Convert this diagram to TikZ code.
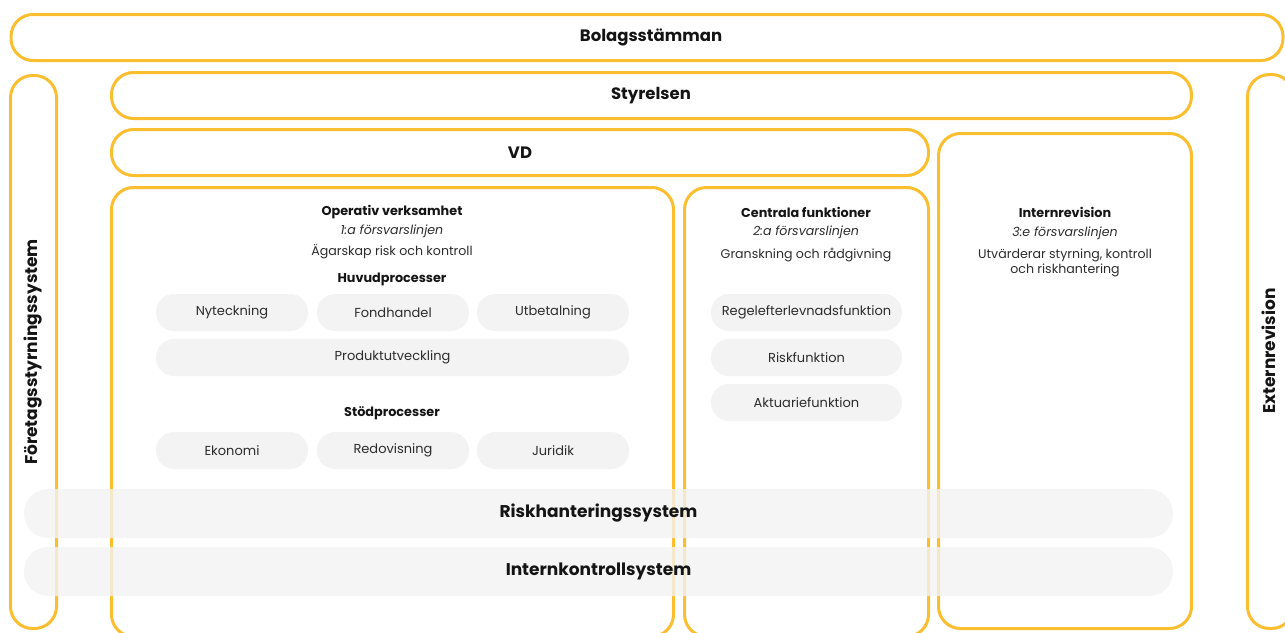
\documentclass[tikz,border=0pt]{standalone}
\usepackage{fontspec}
\setmainfont{Poppins}
\usepackage{tikz}
\usetikzlibrary{positioning}
\definecolor{gulY}{RGB}{251,190,46}
\definecolor{grayF}{RGB}{242,243,242}
\definecolor{txtD}{RGB}{20,20,20}
\tikzset{
  boxY/.style={ draw=gulY, line width=3pt, rounded corners=22pt, inner sep=0pt }
}
\tikzset{
  pillG/.style={ fill=grayF, rounded corners=18pt, minimum height=37pt, inner sep=0pt, text=txtD!90, font=\fontsize{13}{15}\selectfont }
}
\tikzset{
  barG/.style={ fill=grayF, fill opacity=0.8, text opacity=1, rounded corners=24pt, minimum width=1149pt, minimum height=49pt, inner sep=0pt, text=txtD, font=\fontsize{17}{19}\selectfont\bfseries }
}
\tikzset{
  ttl/.style={ text=txtD, font=\fontsize{12.8}{15}\selectfont\bfseries }
}
\tikzset{
  bigttl/.style={ text=txtD, font=\fontsize{16.5}{19}\selectfont\bfseries }
}
\tikzset{
  sub/.style={ text=txtD!90, font=\fontsize{12.6}{14}\selectfont\itshape }
}
\tikzset{
  txt/.style={ text=txtD!90, font=\fontsize{12.6}{14}\selectfont, align=center }
}

\begin{document}
\begin{tikzpicture}[x=1pt, y=-1pt]
      \useasboundingbox (0,0) rectangle (1285,632);
      \clip (0,0) rectangle (1285,632);
      % frames
      \node[boxY, minimum width=1272pt, minimum height=46pt] (bolag) at (647,37.5) {};
      \node[boxY, minimum width=46pt, minimum height=553pt] (fss) at (33.5,352) {};
      \node[boxY, minimum width=46pt, minimum height=554pt] (extrev) at (1270.5,351.5) {};
      \node[boxY, minimum width=1080pt, minimum height=46pt] (styr) at (651.5,95.5) {};
      \node[boxY, minimum width=817pt, minimum height=46pt] (vd) at (520,152.5) {};
      \node[boxY, minimum width=562pt, minimum height=449pt] (oper) at (392.5,412) {};
      \node[boxY, minimum width=244pt, minimum height=449pt] (centr) at (806.5,412) {};
      \node[boxY, minimum width=253pt, minimum height=495pt] (intrev) at (1065,381) {};
      % frame titles
      \node[bigttl] (bolagT) at (651,37) {Bolagsstämman};
      \node[bigttl] (styrT) at (651,96) {Styrelsen};
      \node[bigttl] (vdT) at (520,153) {VD};
      \node[bigttl, font=\fontsize{17}{19}\selectfont\bfseries, rotate=90] (fssT) at (33,352) {Företagsstyrningssystem};
      \node[bigttl, font=\fontsize{17}{19}\selectfont\bfseries, rotate=90] (extrevT) at (1269,351) {Externrevision};
      % first line
      \node[ttl] (operT) at (392,212) {Operativ verksamhet};
      \node[sub] (operS) at (392,231) {1:a försvarslinjen};
      \node[txt] (operX) at (392,252) {Ägarskap risk och kontroll};
      \node[ttl] (huvudT) at (392,279) {Huvudprocesser};
      \node[pillG, minimum width=152pt] (nyt) at (232,312.5) {Nyteckning};
      \node[pillG, minimum width=152pt] (fond) at (393,312.5) {Fondhandel};
      \node[pillG, minimum width=152pt] (utb) at (553,312.5) {Utbetalning};
      \node[pillG, minimum width=473pt] (prod) at (392.5,357.5) {Produktutveckling};
      \node[ttl] (stodT) at (392,413) {Stödprocesser};
      \node[pillG, minimum width=152pt] (eko) at (232,450.5) {Ekonomi};
      \node[pillG, minimum width=152pt] (redo) at (393,450.5) {Redovisning};
      \node[pillG, minimum width=152pt] (jur) at (553,450.5) {Juridik};
      % second line
      \node[ttl] (centrT) at (806,212) {Centrala funktioner};
      \node[sub] (centrS) at (806,232) {2:a försvarslinjen};
      \node[txt] (centrX) at (806,255) {Granskning och rådgivning};
      \node[pillG, minimum width=191pt] (regel) at (806.5,312.5) {Regelefterlevnadsfunktion};
      \node[pillG, minimum width=191pt] (riskf) at (806.5,357.5) {Riskfunktion};
      \node[pillG, minimum width=191pt] (akt) at (806.5,402.5) {Aktuariefunktion};
      % third line
      \node[ttl] (intrevT) at (1065,212) {Internrevision};
      \node[sub] (intrevS) at (1065,233) {3:e försvarslinjen};
      \node[txt, font=\fontsize{12.6}{15}\selectfont] (intrevX) at (1065,263) {Utvärderar styrning, kontroll\\och riskhantering};
      % systems
      \node[barG] (risk) at (598.5,513.5) {Riskhanteringssystem};
      \node[barG] (ikon) at (598.5,571.5) {Internkontrollsystem};
    \end{tikzpicture}
\end{document}
